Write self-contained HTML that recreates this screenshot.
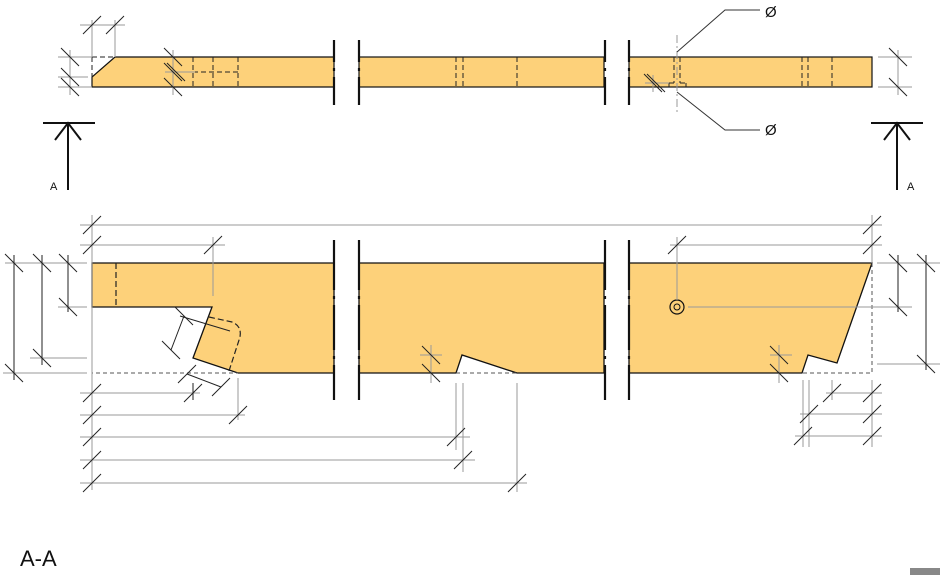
<!DOCTYPE html>
<html><head><style>
html,body{margin:0;padding:0;background:#fff;}
svg{display:block;}
text{font-family:"Liberation Sans",sans-serif;}
</style></head><body>
<svg width="940" height="575" viewBox="0 0 940 575" xmlns="http://www.w3.org/2000/svg">
<defs>
<g id="th"><line x1="-9" y1="9" x2="9" y2="-9" stroke="#222" stroke-width="1"/></g>
<g id="tv"><line x1="-9" y1="-9" x2="9" y2="9" stroke="#222" stroke-width="1"/></g>
</defs>

<!-- TOP VIEW -->
<g stroke="#111" stroke-width="1.2" fill="#fdd17a">
<path d="M115,57 L334,57 L334,87 L92,87 L92,77 Z"/>
<rect x="359" y="57" width="245" height="30"/>
<rect x="629" y="57" width="243" height="30"/>
</g>
<g stroke="#222" stroke-width="1" fill="none" stroke-dasharray="5,3">
<path d="M92,57 L115,57 M92,57 L92,77"/>
<path d="M193,57V87 M213,57V87 M238,57V87 M193,72H240"/>
<path d="M456,57V87 M463,57V87 M517,57V87"/>
<path d="M674,57V83 M680,57V83 M669,83H674 M680,83H686 M669,83V87 M686,83V87"/>
<path d="M802,57V87 M808,57V87 M832,57V87"/>
</g>
<line x1="677" y1="35" x2="677" y2="112" stroke="#999" stroke-dasharray="8,3,2,3"/>
<g stroke="#111" stroke-width="2.2">
<path d="M334,40V105 M359,40V105 M605,40V105 M629,40V105" stroke-dasharray="22,6,3,6,50"/>
</g>
<!-- top dims -->
<g stroke="#999" stroke-width="1" fill="none">
<path d="M80,25H125 M92,20V57 M115,20V57"/>
<path d="M58,57H92 M58,77H88 M58,87H92 M70,50V95"/>
<path d="M165,72H195 M173,50V95"/>
<path d="M645,83H669 M653,75V92"/>
<path d="M878,57H912 M878,87H912 M898,50V95"/>
</g>
<use href="#th" x="92" y="25"/><use href="#th" x="115" y="25"/>
<use href="#tv" x="70" y="57"/><use href="#tv" x="70" y="77"/><use href="#tv" x="70" y="87"/>
<use href="#tv" x="173" y="57"/><use href="#tv" x="173" y="72"/><use href="#tv" x="173" y="87"/><use href="#tv" x="176" y="72"/>
<use href="#tv" x="653" y="83"/><use href="#tv" x="656" y="83"/>
<use href="#tv" x="898" y="57"/><use href="#tv" x="898" y="87"/>
<!-- leaders -->
<g stroke="#333" stroke-width="1" fill="none">
<path d="M677,52 L725,10 H760"/>
<path d="M677,92 L725,130 H760"/>
</g>
<text x="765" y="17" font-size="15" fill="#111">Ø</text>
<text x="765" y="135" font-size="15" fill="#111">Ø</text>
<!-- section arrows -->
<g stroke="#111" stroke-width="2" fill="none">
<path d="M43,123H95 M68,123V190 M55,140L68,123L81,140"/>
<path d="M871,123H923 M897,123V190 M884,140L897,123L910,140"/>
</g>
<text x="50" y="190" font-size="11" fill="#111">A</text>
<text x="907" y="190" font-size="11" fill="#111">A</text>

<!-- SECTION VIEW -->
<g stroke="#111" stroke-width="1.3" fill="#fdd17a">
<path d="M92,263 H334 V373 H238 L193,358 L212,307 H92 Z"/>
<path d="M359,263 H604 V373 H517 L462,355 L456,373 H359 Z"/>
<path d="M629,263 H872 L837,363 L808,355 L802,373 H629 Z"/>
</g>
<g stroke="#222" stroke-width="1.2" fill="none" stroke-dasharray="6,3">
<path d="M116,263V307"/>
<path d="M209,317 L232,322 Q242,326 240,337 L229,371"/>
</g>
<g stroke="#555" stroke-width="1" fill="none" stroke-dasharray="4,3">
<path d="M92,307V373 H238"/>
<path d="M456,373H517"/>
<path d="M872,263V373 H802"/>
</g>
<circle cx="677" cy="307" r="7" fill="none" stroke="#111" stroke-width="1.2"/>
<circle cx="677" cy="307" r="3" fill="none" stroke="#111" stroke-width="1"/>
<g stroke="#111" stroke-width="2.2">
<path d="M334,240V400 M359,240V400 M605,240V400 M629,240V400" stroke-dasharray="50,6,3,6,45,6,3,6,60"/>
</g>
<!-- section dims -->
<g stroke="#999" stroke-width="1" fill="none">
<path d="M80,225H882 M80,245H225 M670,245H882"/>
<path d="M92,215V490 M213,237V296 M677,237V300 M872,215V263 M688,307H912"/>
<path d="M5,263H87 M58,307H87 M30,358H87 M3,373H87"/>
<path d="M877,263H940 M877,364H940"/>
<path d="M80,393H200 M80,415H245 M80,437H470 M80,460H475 M80,483H527"/>
<path d="M238,378V420 M456,383V450 M463,383V472 M517,383V492"/>
<path d="M803,380V447 M809,380V447 M832,380V400 M872,380V447"/>
<path d="M826,393H882 M800,414H882 M795,436H882"/>
<path d="M420,355H442 M431,345V383 M770,355H792 M779,345V383"/>
</g>
<g stroke="#222" stroke-width="1" fill="none">
<path d="M14,255V380 M42,255V365 M68,255V312"/>
<path d="M898,255V312 M926,255V370"/>
<path d="M184,316 L171,350 M180,316 L230,331 M187,374 L221,387 M193,383 V400"/>
</g>
<use href="#th" x="92" y="225"/><use href="#th" x="872" y="225"/>
<use href="#th" x="92" y="245"/><use href="#th" x="213" y="245"/>
<use href="#th" x="677" y="245"/><use href="#th" x="872" y="245"/>
<use href="#tv" x="14" y="263"/><use href="#tv" x="14" y="373"/>
<use href="#tv" x="42" y="263"/><use href="#tv" x="42" y="358"/>
<use href="#tv" x="68" y="263"/><use href="#tv" x="68" y="307"/>
<use href="#tv" x="898" y="263"/><use href="#tv" x="898" y="307"/>
<use href="#tv" x="926" y="263"/><use href="#tv" x="926" y="364"/>
<use href="#th" x="92" y="393"/><use href="#th" x="193" y="393"/>
<use href="#th" x="92" y="415"/><use href="#th" x="238" y="415"/>
<use href="#th" x="92" y="437"/><use href="#th" x="456" y="437"/>
<use href="#th" x="92" y="460"/><use href="#th" x="463" y="460"/>
<use href="#th" x="92" y="483"/><use href="#th" x="517" y="483"/>
<use href="#th" x="832" y="393"/><use href="#th" x="872" y="393"/>
<use href="#th" x="809" y="414"/><use href="#th" x="872" y="414"/>
<use href="#th" x="803" y="436"/><use href="#th" x="872" y="436"/>
<use href="#tv" x="431" y="355"/><use href="#tv" x="431" y="373"/>
<use href="#tv" x="779" y="355"/><use href="#tv" x="779" y="373"/>
<use href="#tv" x="184" y="316"/><use href="#tv" x="171" y="350"/>
<use href="#th" x="187" y="374"/><use href="#th" x="221" y="387"/>

<text x="20" y="566" font-size="22" fill="#111">A-A</text>
<rect x="910" y="568" width="30" height="7" fill="#888"/>
</svg>
</body></html>
